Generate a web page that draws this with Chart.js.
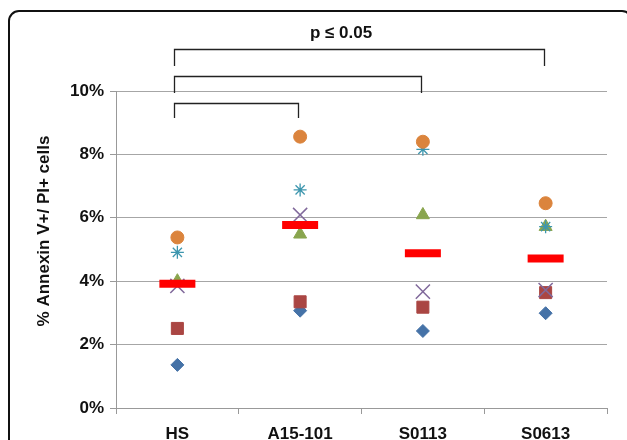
<!DOCTYPE html>
<html><head><meta charset="utf-8">
<script src="https://cdn.jsdelivr.net/npm/chart.js@4/dist/chart.umd.min.js"></script>
<style>
html,body{margin:0;padding:0;background:#fff;overflow:hidden;}
#frame{position:absolute;left:8px;top:10px;width:625px;height:520px;box-sizing:border-box;border:2px solid #111;border-radius:11px;}
#wrap{position:absolute;left:0;top:0;width:627px;height:440px;}
</style></head>
<body>
<div id="frame"></div>
<div id="wrap"><canvas id="c" width="627" height="440"></canvas></div>
<script>
const categories = ['HS', 'A15-101', 'S0113', 'S0613'];
const yTicks = [0, 2, 4, 6, 8, 10];
const seriesDiamond  = [1.36, 3.07, 2.43, 2.99];
const seriesSquare   = [2.51, 3.35, 3.18, 3.64];
const seriesTriangle = [4.00, 5.48, 6.09, 5.72];
const seriesCross    = [3.85, 6.09, 3.67, 3.72];
const seriesStar     = [4.91, 6.88, 8.16, 5.72];
const seriesCircle   = [5.38, 8.56, 8.40, 6.46];
const seriesMean     = [3.92, 5.77, 4.88, 4.72];
const brackets = [['HS', 'S0613'], ['HS', 'S0113'], ['HS', 'A15-101']];
const sigLabel = 'p \u2264 0.05';
const yTitle = '% Annexin V+/ PI+ cells';

const FONT = '"Liberation Sans", Arial, sans-serif';

function ds(data, style, radius, color, order, bw) {
  return {
    data: data, showLine: false, order: order, clip: false,
    pointStyle: style, pointRadius: radius, pointHoverRadius: radius,
    pointBackgroundColor: color, pointBorderColor: color,
    pointBorderWidth: bw, borderColor: color, backgroundColor: color
  };
}

const bracketPlugin = {
  id: 'brackets',
  afterDraw(chart) {
    const ctx = chart.ctx, xs = chart.scales.x, top = chart.chartArea.top;
    const levels = [[-42, -25], [-15, 2], [12, 27]];
    ctx.save();
    ctx.strokeStyle = '#222';
    ctx.lineWidth = 1.3;
    brackets.forEach((b, i) => {
      const x1 = Math.round(xs.getPixelForValue(categories.indexOf(b[0])) - 3) + 0.5;
      const x2 = Math.round(xs.getPixelForValue(categories.indexOf(b[1])) - 2) + 0.5;
      const yT = top + levels[i][0] + 0.5, yB = top + levels[i][1];
      ctx.beginPath();
      ctx.moveTo(x1, yB); ctx.lineTo(x1, yT); ctx.lineTo(x2, yT); ctx.lineTo(x2, yB);
      ctx.stroke();
    });
    ctx.fillStyle = '#111';
    ctx.font = 'bold 17px ' + FONT;
    ctx.textAlign = 'center';
    ctx.textBaseline = 'alphabetic';
    ctx.fillText(sigLabel, 341, 38);
    // y title
    ctx.translate(44, 231);
    ctx.rotate(-Math.PI / 2);
    ctx.textBaseline = 'middle';
    ctx.fillText(yTitle, 0, 0);
    ctx.restore();
  }
};

new Chart(document.getElementById('c'), {
  type: 'line',
  data: {
    labels: categories,
    datasets: [
      ds(seriesDiamond, 'rectRot', 6.5, '#4572A7', 6, 1),
      ds(seriesSquare, 'rect', 8.5, '#AA4643', 5, 1),
      ds(seriesTriangle, 'triangle', 7.5, '#89A54E', 4, 1),
      ds(seriesCross, 'crossRot', 10, '#80699B', 3, 1.5),
      ds(seriesStar, 'star', 6.5, '#3D96AE', 2, 1.3),
      ds(seriesCircle, 'circle', 6.5, '#DB843D', 1, 1),
      ds(seriesMean, 'line', 18, '#FF0000', 0, 8)
    ]
  },
  options: {
    responsive: false,
    animation: false,
    devicePixelRatio: 1,
    layout: { autoPadding: false, padding: { left: 0, right: 20, top: 91, bottom: 0 } },
    plugins: { legend: { display: false }, tooltip: { enabled: false } },
    scales: {
      x: {
        type: 'category',
        offset: true,
        afterFit(s) { s.height = 32; s.paddingLeft = 0; s.paddingRight = 0; },
        grid: { offset: true, drawOnChartArea: false, drawTicks: true, tickLength: 6, color: '#999' },
        border: { color: '#999', width: 1 },
        ticks: { color: '#111', padding: 10, font: { family: FONT, size: 17, weight: 'bold' }, maxRotation: 0 }
      },
      y: {
        min: 0, max: 10,
        afterFit(s) { s.width = 116; },
        afterBuildTicks(s) { s.ticks = yTicks.map(v => ({ value: v })); },
        grid: { color: '#a6a6a6', borderDash: [3, 2], tickLength: 6, tickBorderDash: [], tickColor: '#999' },
        border: { color: '#999', width: 1 },
        ticks: { color: '#111', padding: 6, font: { family: FONT, size: 17, weight: 'bold' }, callback: v => v + '%' }
      }
    }
  },
  plugins: [bracketPlugin]
});
</script>
</body></html>
